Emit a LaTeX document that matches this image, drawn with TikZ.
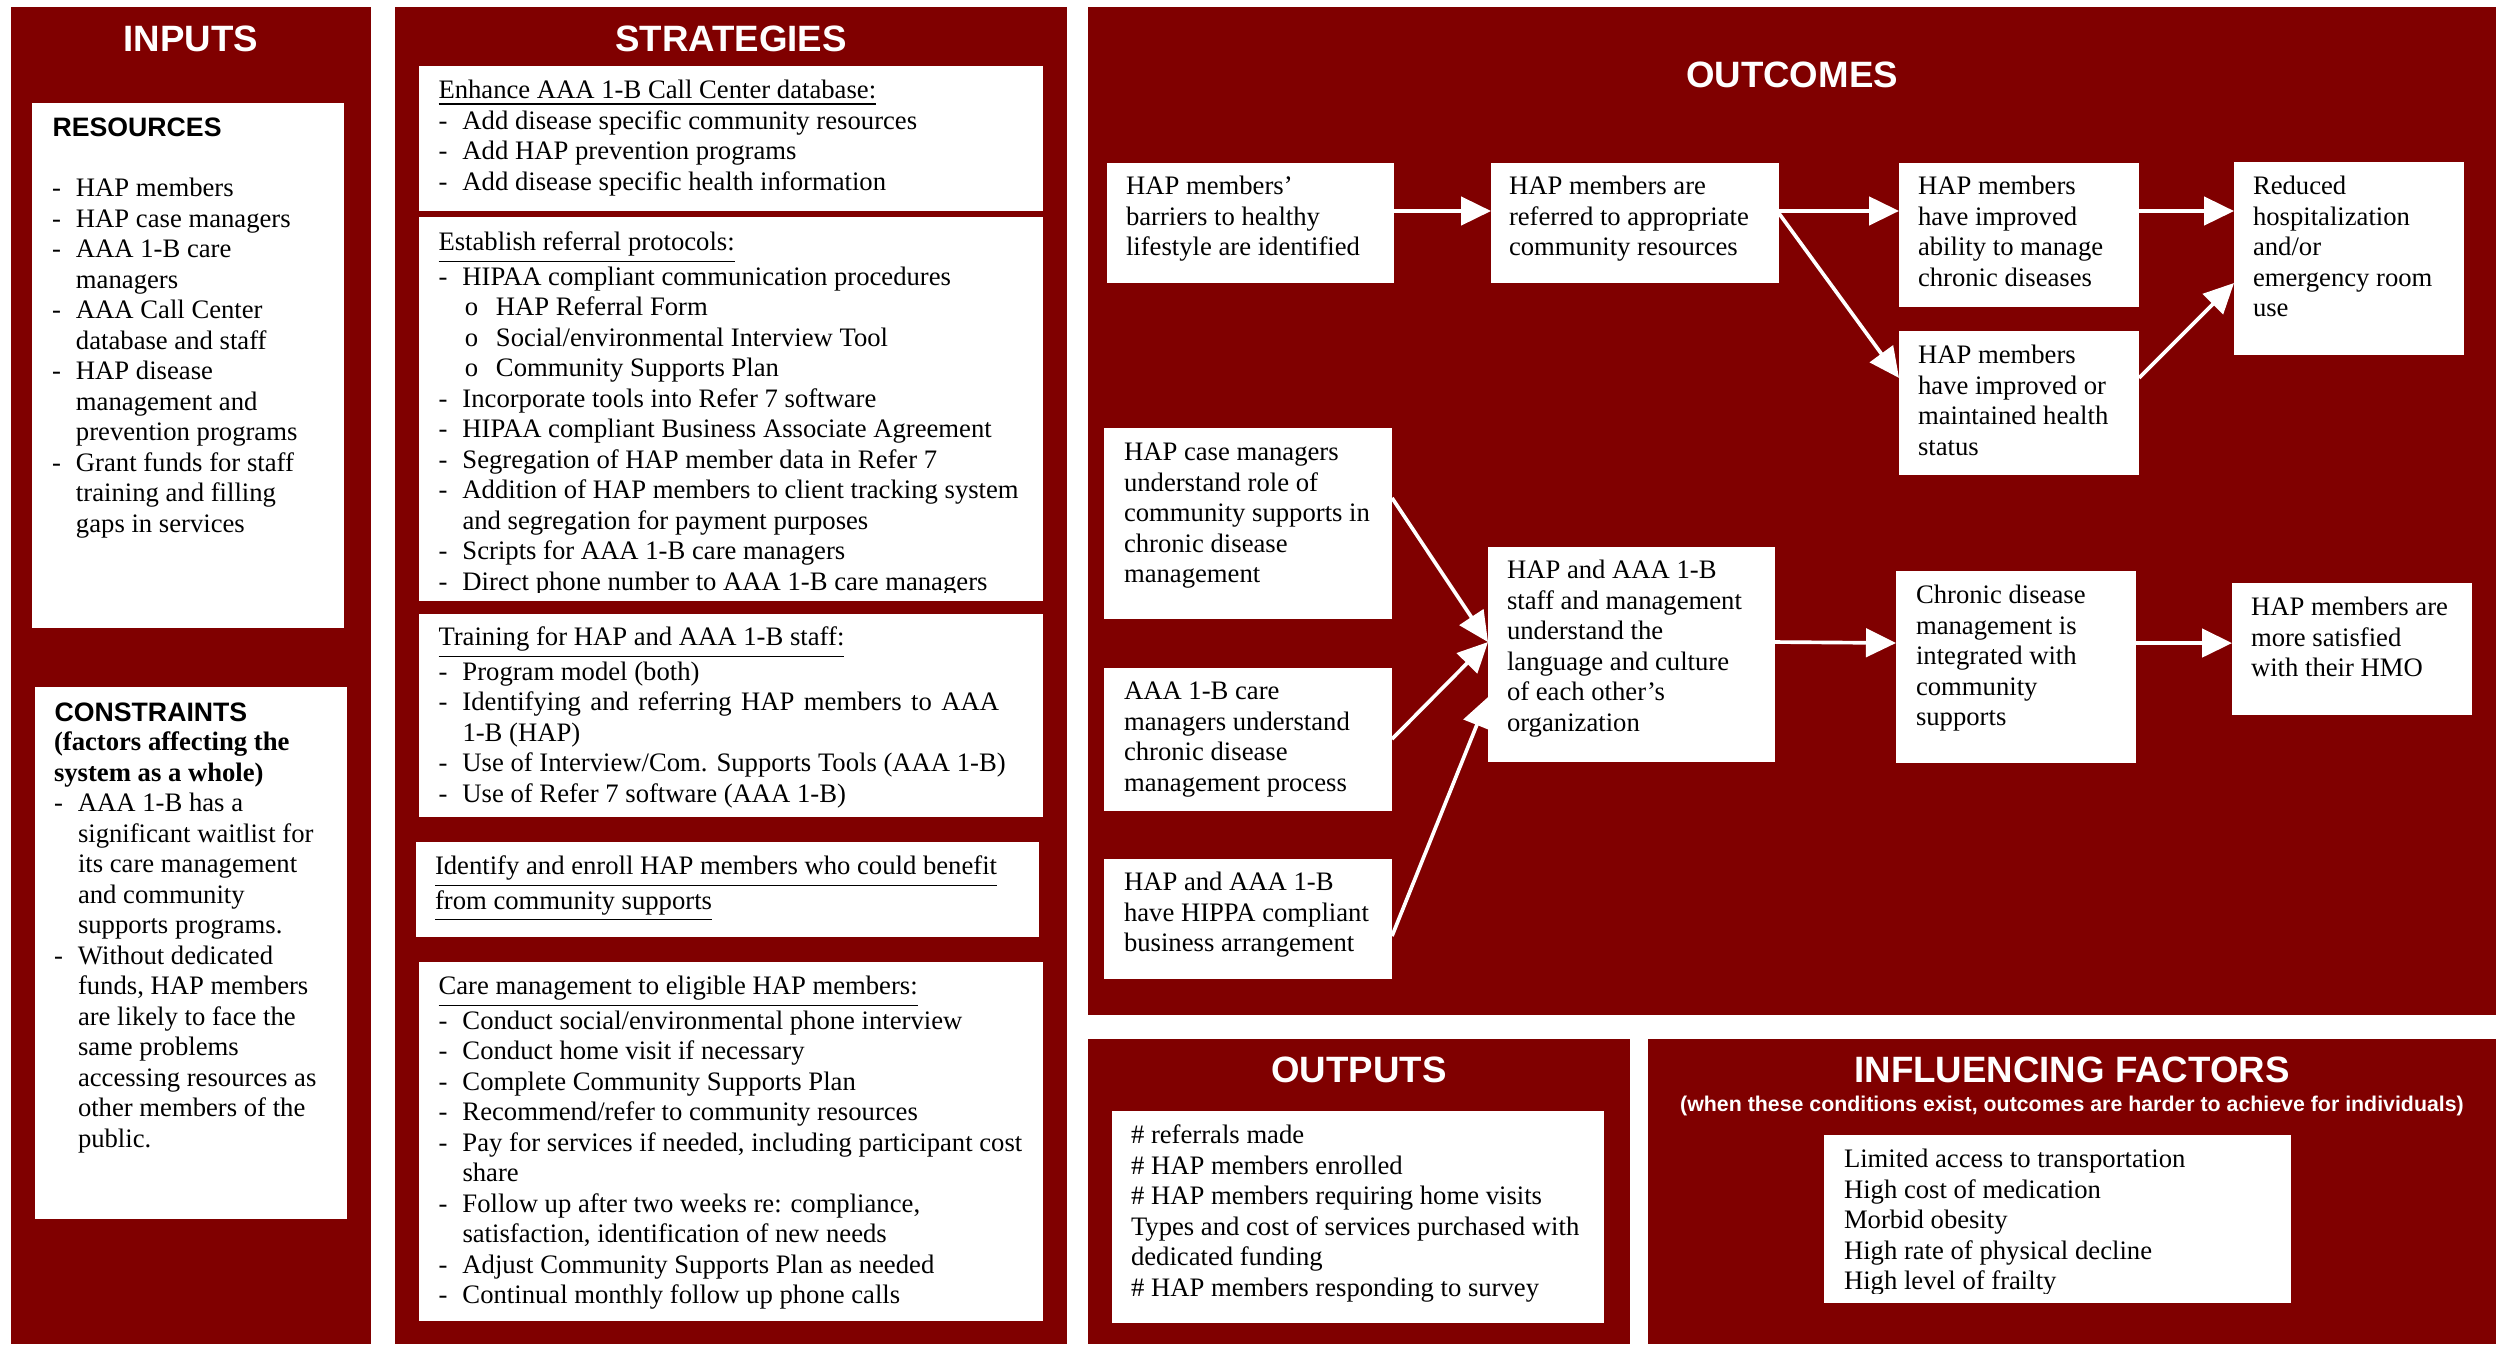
\documentclass[tikz,border=0pt]{standalone}
\usepackage{fontspec}
\setmainfont{Liberation Serif}
\setsansfont{Liberation Sans}
\usetikzlibrary{arrows.meta,calc,fit}
\definecolor{maroonred}{RGB}{128,0,0}
\newcommand\dsh{\makebox[7.2pt][l]{-}}
\newcommand\ind{\hspace*{7.2pt}}
\newcommand\sbl{\hspace*{7.9pt}\makebox[9.35pt][l]{o}}
\tikzset{
  panel/.style={fill=maroonred, draw=none, inner sep=0pt, outer sep=0pt},
  wbox/.style={fill=white, draw=none, inner sep=0pt, outer sep=0pt},
  txt/.style={anchor=north west, inner sep=0pt, outer sep=0pt, align=left, font=\fontsize{8pt}{9.15pt}\selectfont},
  ttl/.style={text=white, inner sep=0pt, font=\sffamily\bfseries\fontsize{11pt}{13pt}\selectfont},
  subttl/.style={text=white, inner sep=0pt, font=\sffamily\bfseries\fontsize{6.4pt}{7.5pt}\selectfont},
  hd/.style={anchor=west, inner sep=0pt, font=\sffamily\bfseries\fontsize{8pt}{9.2pt}\selectfont},
  arr/.style={draw=white, line width=1.1pt, -{Triangle[length=9pt,width=8.5pt]}},
}
\begin{document}
\begin{tikzpicture}[x=0.3pt, y=-0.3pt]
\useasboundingbox (0,0) rectangle (2508,1344);
\fill[white] (0,0) rectangle (2508,1344);

% ---------- panels ----------
\node[panel, fit={(11,7) (371,1344)}] (pIn) {};
\node[panel, fit={(395,7) (1067,1344)}] (pSt) {};
\node[panel, fit={(1088,7) (2496,1015)}] (pOc) {};
\node[panel, fit={(1088,1039) (1630,1344)}] (pOp) {};
\node[panel, fit={(1648,1039) (2496,1344)}] (pIf) {};

\node[ttl] (tIn) at (191,39) {INPUTS};
\node[ttl] (tSt) at (731,39) {STRATEGIES};
\node[ttl] (tOc) at (1792,75) {OUTCOMES};
\node[ttl] (tOp) at (1359,1070) {OUTPUTS};
\node[ttl] (tIf) at (2072,1070) {INFLUENCING FACTORS};
\node[subttl] (tIfs) at (2072,1106) {(when these conditions exist, outcomes are harder to achieve for individuals)};

% ---------- inputs ----------
\node[wbox, fit={(32,103) (344,628)}] (res) {};
\node[hd] (resH) at (52,127) {RESOURCES};
\node[txt] (resT) at (52,175.5) {\strut\dsh HAP members\\
\dsh HAP case managers\\
\dsh AAA 1-B care\\
\ind managers\\
\dsh AAA Call Center\\
\ind database and staff\\
\dsh HAP disease\\
\ind management and\\
\ind prevention programs\\
\dsh Grant funds for staff\\
\ind training and filling\\
\ind gaps in services};

\node[wbox, fit={(35,687) (347,1219)}] (con) {};
\node[hd] (conH) at (54,712) {CONSTRAINTS};
\node[txt] (conT) at (54,729.5) {\strut\textbf{(factors affecting the}\\
\textbf{system as a whole)}\\
\dsh AAA 1-B has a\\
\ind significant waitlist for\\
\ind its care management\\
\ind and community\\
\ind supports programs.\\
\dsh Without dedicated\\
\ind funds, HAP members\\
\ind are likely to face the\\
\ind same problems\\
\ind accessing resources as\\
\ind other members of the\\
\ind public.};

% ---------- strategies ----------
\node[wbox, fit={(419,66) (1043,211)}] (s1) {};
\node[txt] (s1T) at (438.5,77.5) {\strut\underline{Enhance AAA 1-B Call Center database:}\\
\dsh Add disease specific community resources\\
\dsh Add HAP prevention programs\\
\dsh Add disease specific health information};

\node[wbox, fit={(419,217) (1043,601)}] (s2) {};
\begin{scope}
\clip (s2.north west) rectangle ($(s2.south east)+(0,-9)$);
\node[txt] (s2T) at (438.5,229.5) {\strut\underline{Establish referral protocols:}\\
\dsh HIPAA compliant communication procedures\\
\sbl HAP Referral Form\\
\sbl Social/environmental Interview Tool\\
\sbl Community Supports Plan\\
\dsh Incorporate tools into Refer 7 software\\
\dsh HIPAA compliant Business Associate Agreement\\
\dsh Segregation of HAP member data in Refer 7\\
\dsh Addition of HAP members to client tracking system\\
\ind and segregation for payment purposes\\
\dsh Scripts for AAA 1-B care managers\\
\dsh Direct phone number to AAA 1-B care managers};
\end{scope}

\node[wbox, fit={(419,614) (1043,817)}] (s3) {};
\node[txt] (s3T) at (438.5,624.5) {\strut\underline{Training for HAP and AAA 1-B staff:}\\
\dsh Program model (both)\\
\dsh \makebox[161pt][s]{Identifying and referring HAP members to AAA}\\
\ind 1-B (HAP)\\
\dsh Use of Interview/Com. Supports Tools (AAA 1-B)\\
\dsh Use of Refer 7 software (AAA 1-B)};

\node[wbox, fit={(416,842) (1039,937)}] (s4) {};
\node[txt] (s4T) at (435,853.5) {\strut\underline{Identify and enroll HAP members who could benefit}\\
\underline{from community supports}};

\node[wbox, fit={(419,962) (1043,1321)}] (s5) {};
\node[txt] (s5T) at (438.5,973.5) {\strut\underline{Care management to eligible HAP members:}\\
\dsh Conduct social/environmental phone interview\\
\dsh Conduct home visit if necessary\\
\dsh Complete Community Supports Plan\\
\dsh Recommend/refer to community resources\\
\dsh Pay for services if needed, including participant cost\\
\ind share\\
\dsh Follow up after two weeks re: compliance,\\
\ind satisfaction, identification of new needs\\
\dsh Adjust Community Supports Plan as needed\\
\dsh Continual monthly follow up phone calls};

% ---------- outcomes ----------
\node[wbox, fit={(1107,163) (1394,283)}] (A) {};
\node[txt] (At) at (1126,173.5) {\strut HAP members’\\barriers to healthy\\lifestyle are identified};
\node[wbox, fit={(1491,163) (1779,283)}] (B) {};
\node[txt] (Bt) at (1509,173.5) {\strut HAP members are\\referred to appropriate\\community resources};
\node[wbox, fit={(1899,163) (2139,307)}] (C) {};
\node[txt] (Ct) at (1918,173.5) {\strut HAP members\\have improved\\ability to manage\\chronic diseases};
\node[wbox, fit={(1899,331) (2139,475)}] (D) {};
\node[txt] (Dt) at (1918,342.5) {\strut HAP members\\have improved or\\maintained health\\status};
\node[wbox, fit={(2234,162) (2464,355)}] (E) {};
\node[txt] (Et) at (2253,173.5) {\strut Reduced\\hospitalization\\and/or\\emergency room\\use};

\node[wbox, fit={(1104,428) (1392,619)}] (F) {};
\node[txt] (Ft) at (1124,439.5) {\strut HAP case managers\\understand role of\\community supports in\\chronic disease\\management};
\node[wbox, fit={(1104,668) (1392,811)}] (G) {};
\node[txt] (Gt) at (1124,678.5) {\strut AAA 1-B care\\managers understand\\chronic disease\\management process};
\node[wbox, fit={(1104,859) (1392,979)}] (H) {};
\node[txt] (Ht) at (1124,869.5) {\strut HAP and AAA 1-B\\have HIPPA compliant\\business arrangement};
\node[wbox, fit={(1488,547) (1775,762)}] (I) {};
\node[txt] (It) at (1507,557.5) {\strut HAP and AAA 1-B\\staff and management\\understand the\\language and culture\\of each other’s\\organization};
\node[wbox, fit={(1896,571) (2136,763)}] (J) {};
\node[txt] (Jt) at (1916,582.5) {\strut Chronic disease\\management is\\integrated with\\community\\supports};
\node[wbox, fit={(2232,583) (2472,715)}] (K) {};
\node[txt] (Kt) at (2251,594.5) {\strut HAP members are\\more satisfied\\with their HMO};

% connectors
\draw[arr] ($(A.north east)!0.4!(A.south east)$) -- ($(B.north west)!0.4!(B.south west)$);
\draw[arr] ($(B.north east)!0.4!(B.south east)$) -- ($(C.north west)!0.333!(C.south west)$);
\draw[arr] ($(B.north east)!0.42!(B.south east)$) -- ($(D.north west)!0.326!(D.south west)$);
\draw[arr] ($(C.north east)!0.333!(C.south east)$) -- ($(E.north west)!0.254!(E.south west)$);
\draw[arr] ($(D.north east)!0.326!(D.south east)$) -- ($(E.north west)!0.627!(E.south west)$);
\draw[arr] ($(F.north east)!0.366!(F.south east)$) -- ($(I.north west)!0.442!(I.south west)$);
\draw[arr] ($(G.north east)!0.497!(G.south east)$) -- ($(I.north west)!0.442!(I.south west)$);
\draw[arr] ($(H.north east)!0.642!(H.south east)$) -- ($(I.north west)!0.698!(I.south west)$);
\draw[arr] ($(I.north east)!0.442!(I.south east)$) -- ($(J.north west)!0.375!(J.south west)$);
\draw[arr] ($(J.north east)!0.375!(J.south east)$) -- ($(K.north west)!0.455!(K.south west)$);

% ---------- outputs ----------
\node[wbox, fit={(1112,1111) (1604,1323)}] (op) {};
\node[txt] (opT) at (1131,1122.5) {\strut\# referrals made\\
\# HAP members enrolled\\
\# HAP members requiring home visits\\
Types and cost of services purchased with\\
dedicated funding\\
\# HAP members responding to survey};

% ---------- influencing factors ----------
\node[wbox, fit={(1824,1135) (2291,1303)}] (inf) {};
\begin{scope}
\clip (inf.north west) rectangle ($(inf.south east)+(0,-10)$);
\node[txt] (infT) at (1844,1146.5) {\strut Limited access to transportation\\
High cost of medication\\
Morbid obesity\\
High rate of physical decline\\
High level of frailty};
\end{scope}
\end{tikzpicture}
\end{document}
